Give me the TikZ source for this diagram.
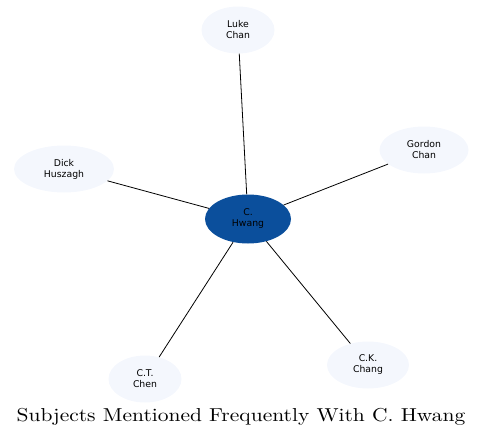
\documentclass[tikz,border=0pt]{standalone}
\usepackage{fontspec}
\usepackage{xcolor}
\usepackage{tikz}
\usetikzlibrary{shapes.geometric}
\newfontfamily\nodefont{DejaVu Sans}
\newfontfamily\titlefont[FakeStretch=1.15]{lmroman10-regular.otf}
\definecolor{HubBlue}{HTML}{0B4F9C}
\definecolor{PaleBlue}{HTML}{F4F7FD}

\begin{document}
\begin{tikzpicture}[
  x=1pt, y=-1pt,
  subject/.style={ellipse, fill=PaleBlue, inner sep=0pt, minimum height=47pt,
                  align=center, font=\nodefont\fontsize{9.3}{11}\selectfont},
  hub/.style={subject, fill=HubBlue, minimum width=86pt, minimum height=49pt},
  link/.style={draw=black, line width=0.8pt}
]
\useasboundingbox (0,0) rectangle (484,439);
\node[hub] (hwang) at (248,219) {C.\\Hwang};
\node[subject, minimum width=73pt] (luke) at (238,30) {Luke\\Chan};
\node[subject, minimum width=89pt] (gordon) at (424,150) {Gordon\\Chan};
\node[subject, minimum width=100pt] (dick) at (64,169) {Dick\\Huszagh};
\node[subject, minimum width=73pt] (ctchen) at (145,379) {C.T.\\Chen};
\node[subject, minimum width=82pt] (ckchang) at (368,365) {C.K.\\Chang};
\draw[link] (hwang) -- (luke);
\draw[link] (hwang) -- (gordon);
\draw[link] (hwang) -- (dick);
\draw[link] (hwang) -- (ctchen);
\draw[link] (hwang) -- (ckchang);
\node[font=\titlefont\fontsize{18.7}{22}\selectfont] (title) at (241,417) {Subjects Mentioned Frequently With C. Hwang};
\end{tikzpicture}
\end{document}
